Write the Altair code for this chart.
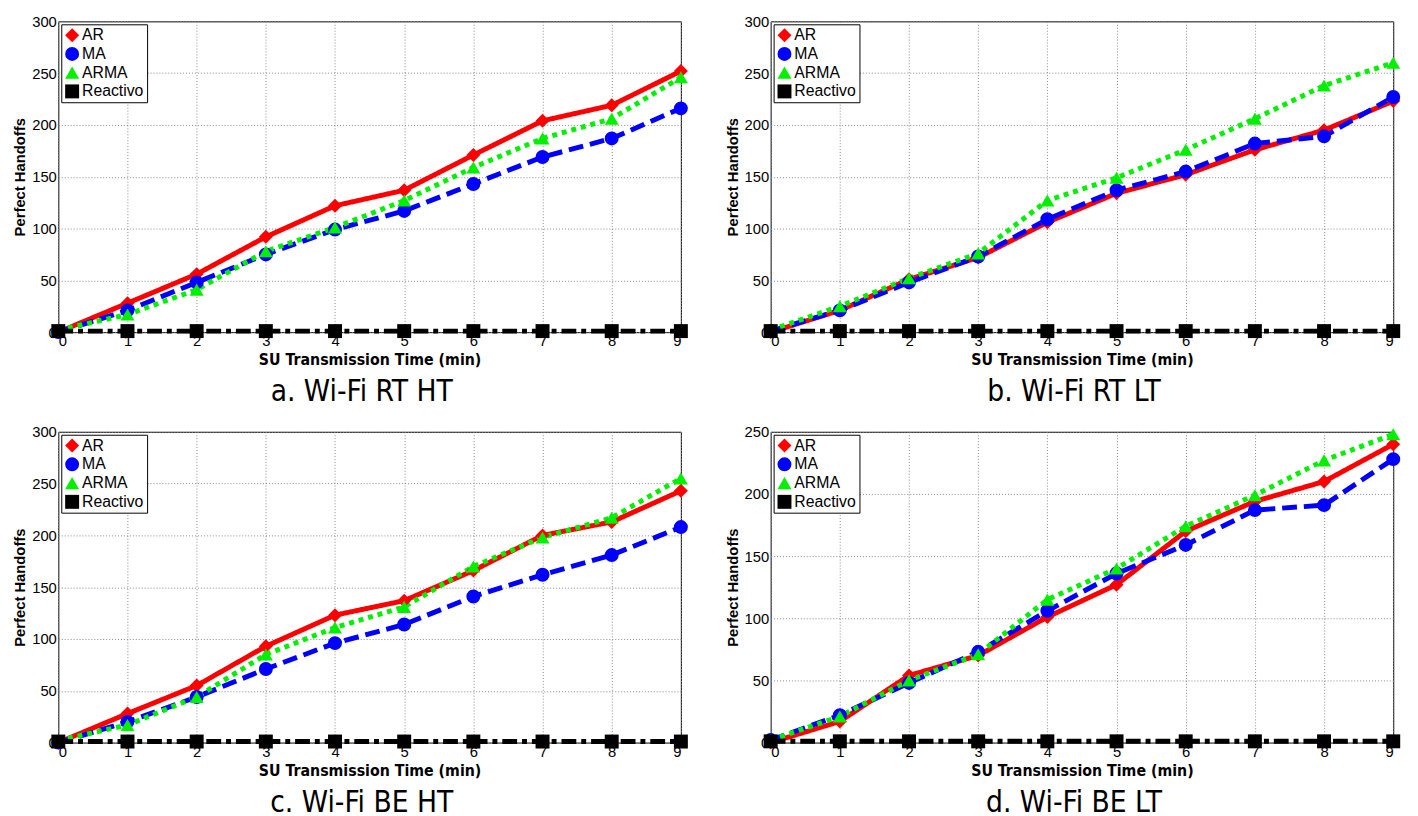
import altair as alt
import pandas as pd

x_vals = [0, 1, 2, 3, 4, 5, 6, 7, 8, 9]
series_names = ["AR", "MA", "ARMA", "Reactivo"]
series_colors = ["#ff0000", "#0000ff", "#00f000", "#000000"]
series_shapes = ["diamond", "circle", "triangle-up", "square"]
series_dash = [[1, 0], [15, 7], [5, 5], [15, 5, 5, 5]]

reactivo = [1, 1, 1, 1, 1, 1, 1, 1, 1, 1]

a_AR = [0, 28, 56, 92, 122, 137, 171, 204, 219, 252]
a_MA = [0, 21, 48, 75, 99, 117, 143, 169, 187, 216]
a_ARMA = [2, 17, 41, 78, 101, 127, 159, 187, 206, 246]

b_AR = [0, 21, 51, 72, 106, 134, 152, 176, 195, 223]
b_MA = [1, 21, 48, 73, 109, 137, 155, 182, 189, 227]
b_ARMA = [2, 25, 52, 76, 127, 149, 176, 206, 238, 260]

c_AR = [0, 28, 55, 93, 123, 137, 166, 200, 213, 243]
c_MA = [0, 20, 44, 71, 96, 114, 141, 162, 181, 208]
c_ARMA = [2, 17, 44, 85, 111, 131, 170, 198, 217, 255]

d_AR = [0, 17, 54, 70, 101, 127, 170, 194, 210, 240]
d_MA = [2, 22, 48, 73, 106, 136, 159, 187, 191, 228]
d_ARMA = [2, 21, 50, 71, 115, 140, 174, 199, 227, 248]

captions = ["a. Wi-Fi RT HT", "b. Wi-Fi RT LT", "c. Wi-Fi BE HT", "d. Wi-Fi BE LT"]
y_max = [300, 300, 300, 250]

W, H = 631, 315
COND = "DejaVu Sans Condensed, Liberation Sans, sans-serif"


def panel(ar, ma, arma, caption, ymax):
    rows = []
    for name, vals in zip(series_names, [ar, ma, arma, reactivo]):
        for xv, yv in zip(x_vals, vals):
            rows.append({"t": xv, "v": yv, "s": name})
    df = pd.DataFrame(rows)
    xenc = alt.X("t:Q", scale=alt.Scale(domain=[0, 9], nice=False),
                 axis=alt.Axis(values=x_vals, title="SU Transmission Time (min)"))
    yenc = alt.Y("v:Q", scale=alt.Scale(domain=[0, ymax], nice=False),
                 axis=alt.Axis(values=list(range(0, ymax + 1, 50)), title="Perfect Handoffs"))
    lines = alt.Chart(df).mark_line(strokeWidth=5).encode(
        x=xenc, y=yenc,
        color=alt.Color("s:N", scale=alt.Scale(domain=series_names, range=series_colors), legend=None),
        strokeDash=alt.StrokeDash("s:N", scale=alt.Scale(domain=series_names, range=series_dash), legend=None),
        order=alt.Order("t:Q"),
    )
    leg = alt.Legend(title=None, orient="top-left", offset=3)
    pts = alt.Chart(df).mark_point(filled=True, size=200, opacity=1).encode(
        x=xenc, y=yenc,
        color=alt.Color("s:N", scale=alt.Scale(domain=series_names, range=series_colors), legend=leg),
        shape=alt.Shape("s:N", scale=alt.Scale(domain=series_names, range=series_shapes), legend=leg),
    )
    return alt.layer(lines, pts).properties(
        width=W, height=H,
        title=alt.TitleParams(caption, orient="bottom", fontSize=30, dx=-8,
                              font=COND, fontWeight="normal", offset=10, color="#000000"),
    ).resolve_scale(color="independent", shape="independent", strokeDash="independent")


pa = panel(a_AR, a_MA, a_ARMA, captions[0], y_max[0])
pb = panel(b_AR, b_MA, b_ARMA, captions[1], y_max[1])
pc = panel(c_AR, c_MA, c_ARMA, captions[2], y_max[2])
pd_ = panel(d_AR, d_MA, d_ARMA, captions[3], y_max[3])

chart = alt.vconcat(
    alt.hconcat(pa, pb, spacing=33).resolve_scale(color="independent", shape="independent"),
    alt.hconcat(pc, pd_, spacing=33).resolve_scale(color="independent", shape="independent"),
    spacing=16,
).resolve_scale(color="independent", shape="independent").configure_view(
    stroke="#000000", strokeWidth=1
).configure_axis(
    gridColor="#888888", gridDash=[1, 2], gridOpacity=1, gridWidth=1,
    domain=False, ticks=False, labelPadding=2,
    labelFont="Liberation Sans", labelFontSize=15, labelColor="#000000",
    titleFont=COND, titleFontSize=16, titleFontWeight="bold", titleColor="#000000",
).configure_axisX(titlePadding=3).configure_axisY(titlePadding=4, titleFont="Liberation Sans", titleFontSize=15).configure_legend(
    fillColor="#ffffff", strokeColor="#000000", padding=3, labelFont="Liberation Sans",
    labelFontSize=16, labelColor="#000000", symbolSize=200, rowPadding=3, symbolStrokeWidth=0,
    cornerRadius=0, labelOffset=2,
).properties(padding={"left": 4, "top": 0, "right": 6, "bottom": 0})

chart.save("out.html", embed_options={"renderer": "svg", "actions": False})
